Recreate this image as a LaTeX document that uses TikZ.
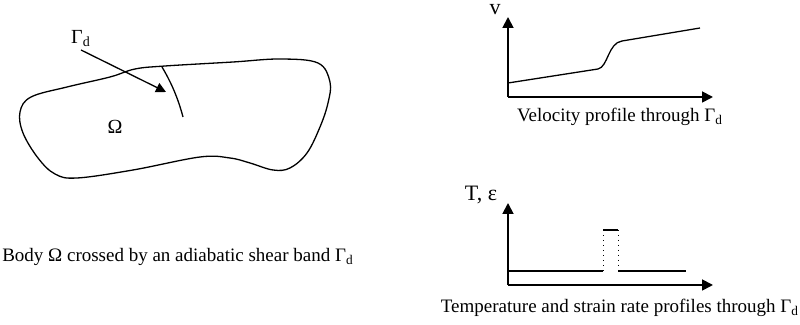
\documentclass[tikz,border=0pt]{standalone}
\usepackage{fontspec}
\setmainfont{Liberation Serif}
\usetikzlibrary{arrows.meta}
\begin{document}
\begin{tikzpicture}[x=0.5pt,y=-0.5pt,
  thin line/.style={line width=0.65pt, line join=round},
  axis/.style={line width=0.9pt, -{Triangle[length=5.5pt,width=5.5pt]}},
  label text/.style={font=\fontsize{9.5}{11}\selectfont, inner sep=0pt},
  axis label/.style={font=\fontsize{11}{13}\selectfont, inner sep=0pt},
  tri/.style={-{Triangle[length=5pt,width=5pt]}}]
\useasboundingbox (0,0) rectangle (800,325);

% ---------- body Omega ----------
\draw[thin line] plot[smooth cycle, tension=0.6] coordinates {
  (20,112) (31,97) (67,87) (110,77) (135,69) (165,66) (233,62) (280,59)
  (318,63) (330,82) (328,103) (320,127) (307,153) (290,168) (273,170)
  (250,163) (230,158) (200,157) (133,170) (77,178) (55,174) (38,158) (23,133)};
\coordinate (bandtop) at (162,67);
\coordinate (bandbot) at (183,117);
\draw[thin line] (bandtop) .. controls (171,82) and (178,98) .. (bandbot);
\node[label text, font=\fontsize{10}{12}\selectfont] (gamma) at (81,39) {Γ\textsubscript{d}};
\coordinate (arrowstart) at (81,50);
\coordinate (arrowtip) at (166,92);
\draw[thin line, tri] (arrowstart) -- (arrowtip);
\node[label text, font=\fontsize{10}{12}\selectfont] (omega) at (115,127) {Ω};
\node[label text] (cap1) at (178,257) {Body Ω crossed by an adiabatic shear band Γ\textsubscript{d}};

% ---------- velocity profile ----------
\coordinate (o1) at (508,97);
\coordinate (y1) at (508,17);
\coordinate (x1) at (713,97);
\draw[axis] (o1) -- (y1);
\draw[axis] (o1) -- (x1);
\node[axis label] (vlab) at (495,10) {v};
\coordinate (v0) at (508,83);
\coordinate (v1) at (598,69);
\coordinate (v2) at (622,41);
\coordinate (v3) at (700,28);
\draw[thin line] (v0) -- (v1) .. controls (608,67) and (608,43) .. (v2) -- (v3);
\node[label text] (cap2) at (620,117) {Velocity profile through Γ\textsubscript{d}};

% ---------- temperature / strain rate profile ----------
\coordinate (o2) at (508,285);
\coordinate (y2) at (508,203);
\coordinate (x2) at (713,285);
\draw[axis] (o2) -- (y2);
\draw[axis] (o2) -- (x2);
\node[axis label] (tlab) at (481,195) {T, ε};
\coordinate (t0) at (508,271);
\coordinate (t1) at (603,271);
\coordinate (t2) at (603,230);
\coordinate (t3) at (618,230);
\coordinate (t4) at (618,271);
\coordinate (t5) at (686,271);
\draw[thin line] (t0) -- (t1);
\draw[line width=0.5pt, dotted] (t1) -- (t2);
\draw[thin line] (t2) -- (t3);
\draw[line width=0.5pt, dotted] (t3) -- (t4);
\draw[thin line] (t4) -- (t5);
\node[label text] (cap3) at (620,308) {Temperature and strain rate profiles through Γ\textsubscript{d}};
\end{tikzpicture}
\end{document}
